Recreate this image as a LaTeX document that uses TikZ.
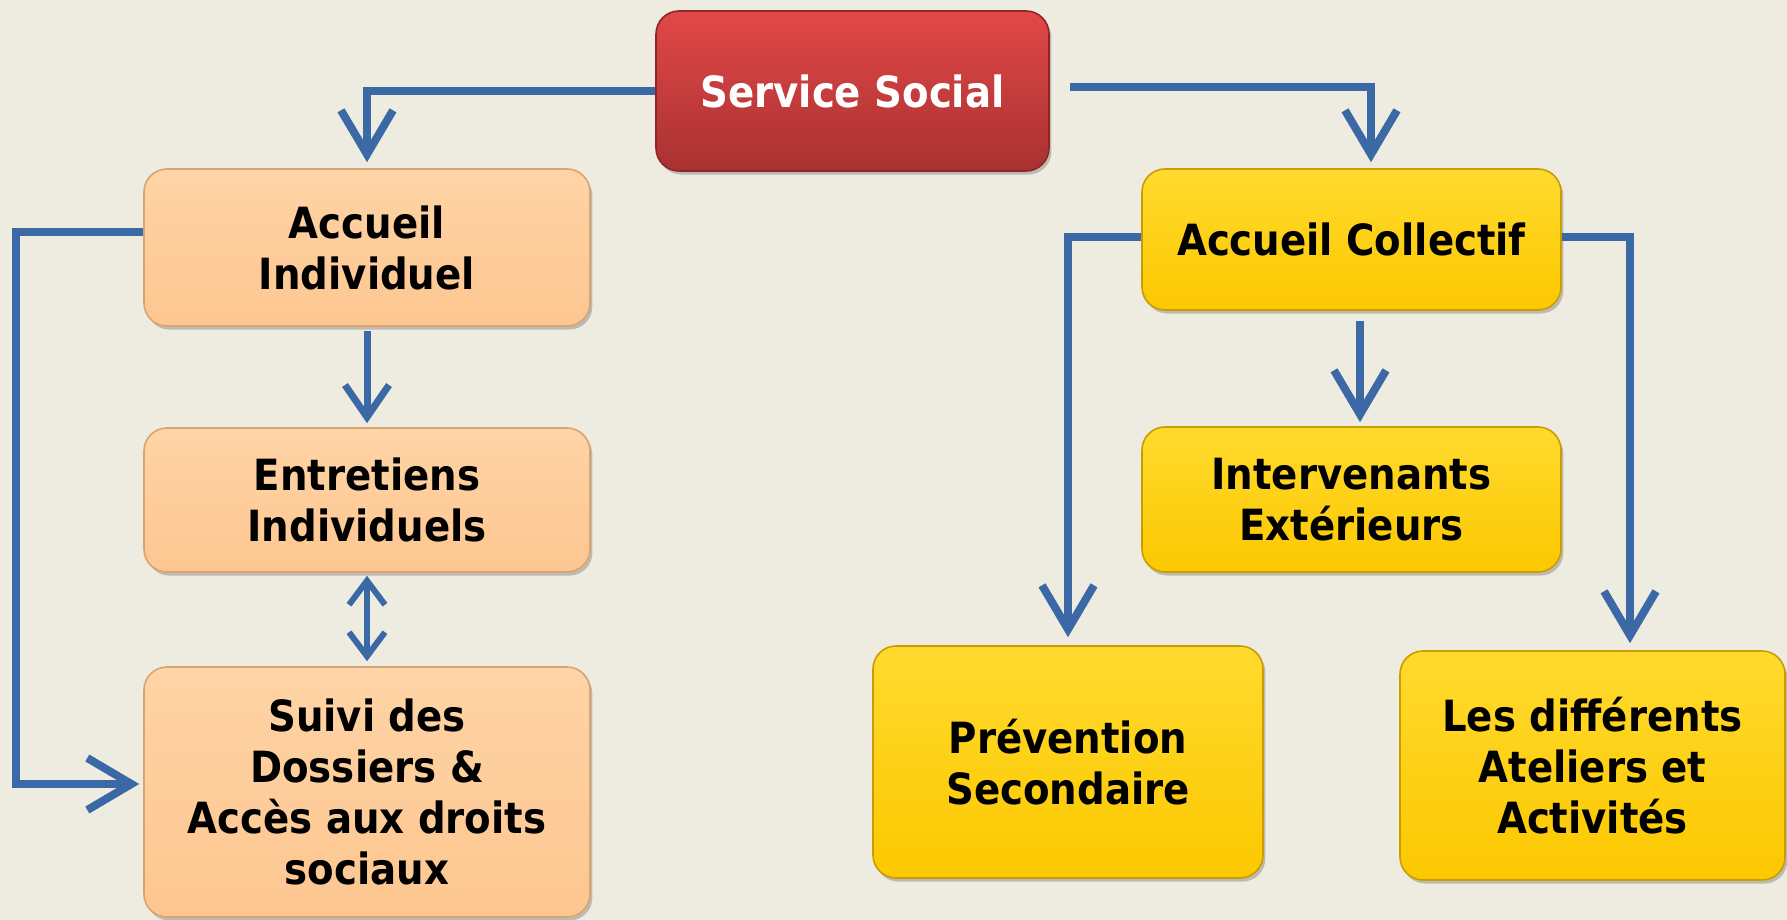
\documentclass[tikz,border=0pt]{standalone}
\usepackage{fontspec}
\setmainfont{DejaVu Sans Condensed}
\usetikzlibrary{arrows.meta,shadows}

\definecolor{bgcol}{HTML}{EEEBE1}
\definecolor{redtop}{HTML}{E24848}
\definecolor{redbot}{HTML}{A93131}
\definecolor{rededge}{HTML}{8E2626}
\definecolor{peachtop}{HTML}{FFD4A6}
\definecolor{peachbot}{HTML}{FDC690}
\definecolor{peachedge}{HTML}{D9A472}
\definecolor{yeltop}{HTML}{FFDA2E}
\definecolor{yelbot}{HTML}{FCC800}
\definecolor{yeledge}{HTML}{C99D00}
\definecolor{linkblue}{HTML}{3B69A6}

\tikzset{
  box/.style={rounded corners=11.5pt, align=center, inner sep=0pt,
    font=\bfseries\fontsize{21.5pt}{25.5pt}\selectfont, line width=0.8pt,
    drop shadow={shadow xshift=1.2pt, shadow yshift=-1.8pt, opacity=0.3, fill=black!70}},
  redbox/.style={box, top color=redtop, bottom color=redbot, draw=rededge, text=white},
  peachbox/.style={box, top color=peachtop, bottom color=peachbot, draw=peachedge, text=black},
  yelbox/.style={box, top color=yeltop, bottom color=yelbot, draw=yeledge, text=black},
  conn/.style={draw=linkblue, line width=4pt,
    -{Straight Barb[length=22pt, width=26pt]}},
  connsmall/.style={draw=linkblue, line width=3.5pt,
    -{Straight Barb[length=16pt, width=22pt]}},
  conndouble/.style={draw=linkblue, line width=3pt,
    {Straight Barb[length=12pt, width=18pt]}-{Straight Barb[length=12pt, width=18pt]}},
}

\begin{document}
\begin{tikzpicture}[x=0.5pt, y=-0.5pt]
  % canvas
  \fill[bgcol] (0,0) rectangle (1787,920);
  \useasboundingbox (0,0) rectangle (1787,920);

  % boxes
  \node[redbox, minimum width=196.5pt, minimum height=80pt] (ss) at (852.5,91) {Service Social};

  \node[peachbox, minimum width=223pt, minimum height=78.5pt] (ai) at (367,247.5) {Accueil\\Individuel};
  \node[peachbox, minimum width=223pt, minimum height=72pt] (ei) at (367,500) {Entretiens\\Individuels};
  \node[peachbox, minimum width=223pt, minimum height=125pt] (sd) at (367,792) {Suivi des\\Dossiers \&\\Accès aux droits\\sociaux};

  \node[yelbox, minimum width=209.5pt, minimum height=70.5pt] (ac) at (1351.5,239.5) {Accueil Collectif};
  \node[yelbox, minimum width=209.5pt, minimum height=72.5pt] (ie) at (1351.5,499.5) {Intervenants\\Extérieurs};
  \node[yelbox, minimum width=195pt, minimum height=116pt] (ps) at (1068,762) {Prévention\\Secondaire};
  \node[yelbox, minimum width=192.5pt, minimum height=114.5pt] (ld) at (1592.5,765.5) {Les différents\\Ateliers et\\Activités};

  % corner of the loop on the left
  \coordinate (lcorner) at (16,784);

  % connectors
  \draw[conn, shorten >=3pt] (ss.west) -| (ai.north);
  \draw[conn, shorten >=3pt] ([shift={(20,-4)}]ss.east) -| ([xshift=9.75pt]ac.north);

  \draw[conn, shorten >=2pt] ([yshift=7.75pt]ai.west) -| (lcorner) -- (sd.west |- lcorner);
  \draw[connsmall, shorten <=2pt, shorten >=2pt] (ai.south) -- (ei.north);
  \draw[conndouble, shorten <=1.5pt, shorten >=2.5pt] (ei.south) -- (sd.north);

  \draw[conn, shorten >=4pt] ([yshift=1.25pt]ac.west) -| (ps.north);
  \draw[conn, shorten >=3.5pt] ([yshift=1.25pt]ac.east) -| ([xshift=18.75pt]ld.north);
  \draw[conn, shorten <=5pt, shorten >=2pt] ([xshift=4.25pt]ac.south) -- ([xshift=4.25pt]ie.north);
\end{tikzpicture}
\end{document}
